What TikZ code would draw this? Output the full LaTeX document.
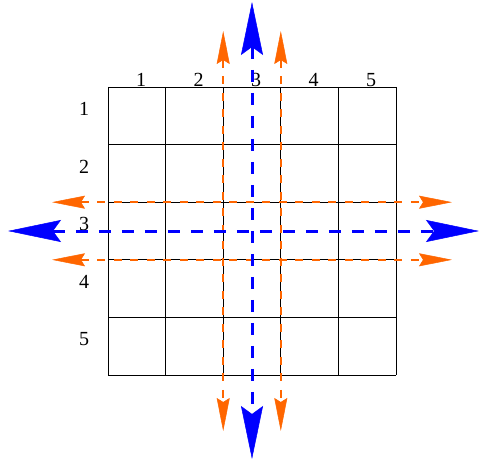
\documentclass[tikz,border=0pt]{standalone}
\usepackage{fontspec}
\setmainfont{Liberation Serif}
\usetikzlibrary{arrows.meta}
\definecolor{myorange}{RGB}{255,102,0}
\begin{document}
\begin{tikzpicture}[x=1pt,y=-1pt,
  gridline/.style={black, line width=0.8pt},
  bigtip/.tip={Stealth[length=53pt,width=22pt,inset=8pt,line width=0.5pt]},
  smalltip/.tip={Stealth[length=33pt,width=13pt,inset=4pt,line width=0.5pt]},
  bluearrow/.style={blue, line width=3pt, dash pattern=on 12.5pt off 10.5pt, bigtip-bigtip},
  orangearrow/.style={myorange, line width=1.5pt, dash pattern=on 8pt off 8.5pt, smalltip-smalltip},
  lbl/.style={font=\fontsize{20}{24}\selectfont, inner sep=0pt}]
\useasboundingbox (0,0) rectangle (480,460);
% grid
\foreach \i in {0,...,5} {
  \draw[gridline] ({108+57.6*\i},87) -- ({108+57.6*\i},375);
  \draw[gridline] (108,{87+57.6*\i}) -- (396,{87+57.6*\i});
}
% labels
\foreach \i in {1,...,5} {
  \node[lbl, anchor=base] (c\i) at ({141+57.5*(\i-1)},86.5) {\i};
  \node[lbl, anchor=center] (r\i) at (84,{109+57.5*(\i-1)}) {\i};
}
% coordinates
\coordinate (ovt1) at (223.2,31);
\coordinate (ovb1) at (223.2,431);
\coordinate (ovt2) at (280.8,31);
\coordinate (ovb2) at (280.8,431);
\coordinate (ohl1) at (52,202.2);
\coordinate (ohr1) at (452,202.2);
\coordinate (ohl2) at (52,259.8);
\coordinate (ohr2) at (452,259.8);
\coordinate (bvt) at (252,2);
\coordinate (bvb) at (252,459);
\coordinate (bhl) at (8,231);
\coordinate (bhr) at (479,231);
% orange arrows
\draw[orangearrow] (ovt1) -- (ovb1);
\draw[orangearrow] (ovt2) -- (ovb2);
\draw[orangearrow] (ohl1) -- (ohr1);
\draw[orangearrow] (ohl2) -- (ohr2);
% blue arrows
\draw[bluearrow] (bvt) -- (bvb);
\draw[bluearrow] (bhl) -- (bhr);
\end{tikzpicture}
\end{document}
